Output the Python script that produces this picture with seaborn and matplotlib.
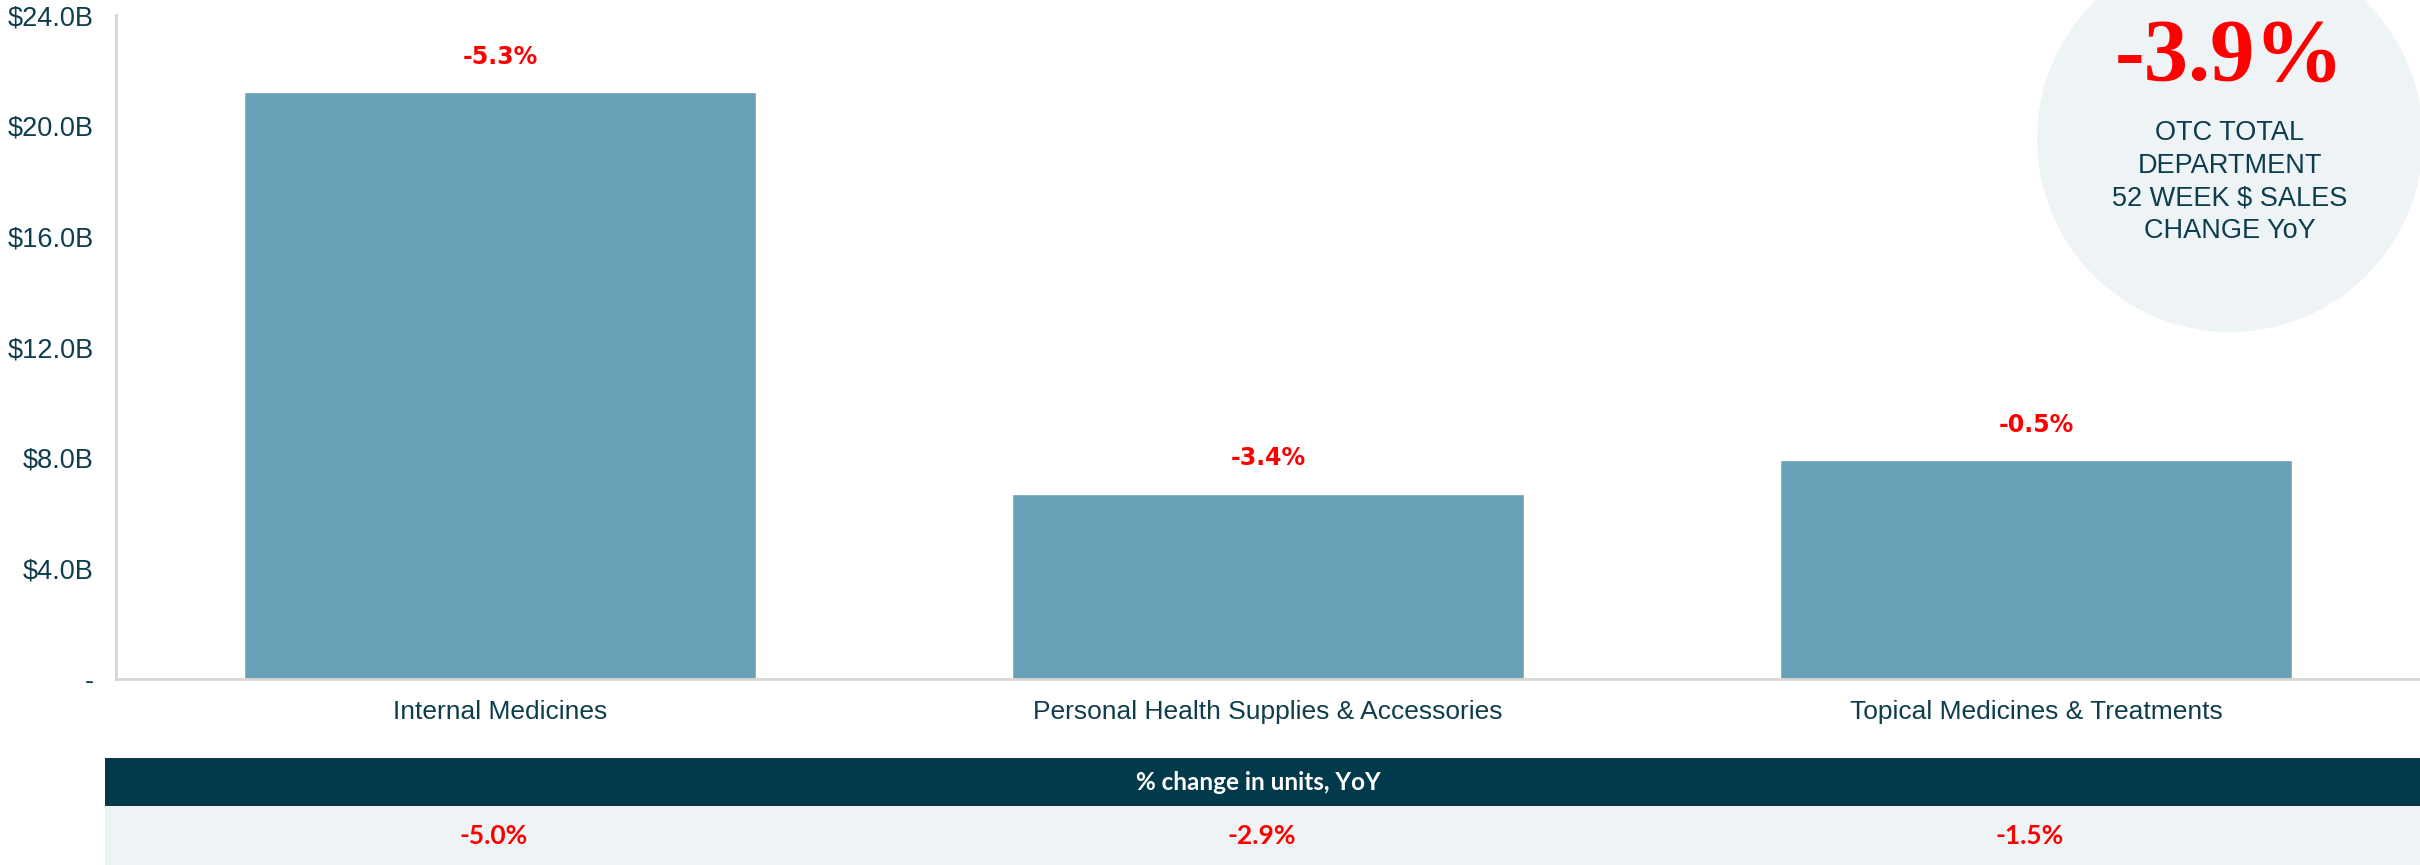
import matplotlib
matplotlib.use("Agg")
import matplotlib.pyplot as plt
import seaborn as sns
import pandas as pd
from matplotlib.patches import Ellipse, Rectangle

# ---- data ----
categories = ["Internal Medicines", "Personal Health Supplies & Accessories", "Topical Medicines & Treatments"]
sales_billions = [21.2, 6.7, 7.9]
dollar_change_labels = ["-5.3%", "-3.4%", "-0.5%"]
unit_change_labels = ["-5.0%", "-2.9%", "-1.5%"]
y_ticks = [0, 4, 8, 12, 16, 20, 24]
y_tick_labels = ["-", "$4.0B", "$8.0B", "$12.0B", "$16.0B", "$20.0B", "$24.0B"]
total_change = "-3.9%"
total_caption = "OTC TOTAL\nDEPARTMENT\n52 WEEK $ SALES\nCHANGE YoY"
table_header = "% change in units, YoY"

sns.set_style("white")
plt.rcParams["font.family"] = ["Liberation Sans", "DejaVu Sans"]

W, H = 2420, 865
fig = plt.figure(figsize=(W / 100, H / 100), dpi=100)

# circle callout (behind the axes)
cx, cy, r = 2230, 139, 193
fig.add_artist(Ellipse((cx / W, 1 - cy / H), 2 * r / W, 2 * r / H,
                       transform=fig.transFigure, facecolor="#EEF3F6",
                       edgecolor="none", zorder=-1))

ax = fig.add_axes([116 / W, 1 - 679 / H, 1 - 116 / W, (679 - 15) / H])
ax.set_facecolor("none")
ax.patch.set_alpha(0)

df = pd.DataFrame({"cat": categories, "val": sales_billions})
sns.barplot(data=df, x="cat", y="val", color="#68A2B9", width=0.667, ax=ax, saturation=1)

ax.set_ylim(0, 24)
ax.set_xlim(-0.5, 2.5)
ax.set_yticks(y_ticks)
ax.set_yticklabels(y_tick_labels)
ax.set_xlabel("")
ax.set_ylabel("")
text_col = "#0E3D4E"
ax.tick_params(axis="y", length=0, pad=16, labelsize=19.5, labelcolor=text_col)
ax.tick_params(axis="x", length=0, pad=15, labelsize=19, labelcolor=text_col)
for s in ["top", "right"]:
    ax.spines[s].set_visible(False)
for s in ["left", "bottom"]:
    ax.spines[s].set_color("#D9D5D0")
    ax.spines[s].set_linewidth(2)

for i, (v, lab) in enumerate(zip(sales_billions, dollar_change_labels)):
    ax.annotate(lab, (i, v), xytext=(0, 25.5), textcoords="offset points",
                ha="center", va="center", color="#FF0000", fontsize=17,
                fontweight="bold", family="DejaVu Sans")

fig.text(cx / W, 1 - 58 / H, total_change, ha="center", va="center",
         color="#FF0000", fontsize=64, fontweight="bold", family="Liberation Serif")
fig.text(cx / W, 1 - 182 / H, total_caption, ha="center", va="center",
         color=text_col, fontsize=19.5, linespacing=1.33)

# bottom table
fig.add_artist(Rectangle((105 / W, 1 - 806 / H), 1 - 105 / W, 48 / H,
                         transform=fig.transFigure, facecolor="#023A4B", edgecolor="none"))
fig.add_artist(Rectangle((105 / W, 0), 1 - 105 / W, 59 / H,
                         transform=fig.transFigure, facecolor="#EEF3F6", edgecolor="none"))
fig.text(1258 / W, 1 - 783 / H, table_header, ha="center", va="center",
         color="white", fontsize=17.5, fontweight="bold", family="Lato")
for i, lab in enumerate(unit_change_labels):
    xd = ax.transData.transform((i, 0))[0] - 6
    fig.text(xd / W, 1 - 836 / H, lab, ha="center", va="center",
             color="#FF0000", fontsize=19, fontweight="bold", family="Lato")

fig.savefig("out.png", dpi=100)
